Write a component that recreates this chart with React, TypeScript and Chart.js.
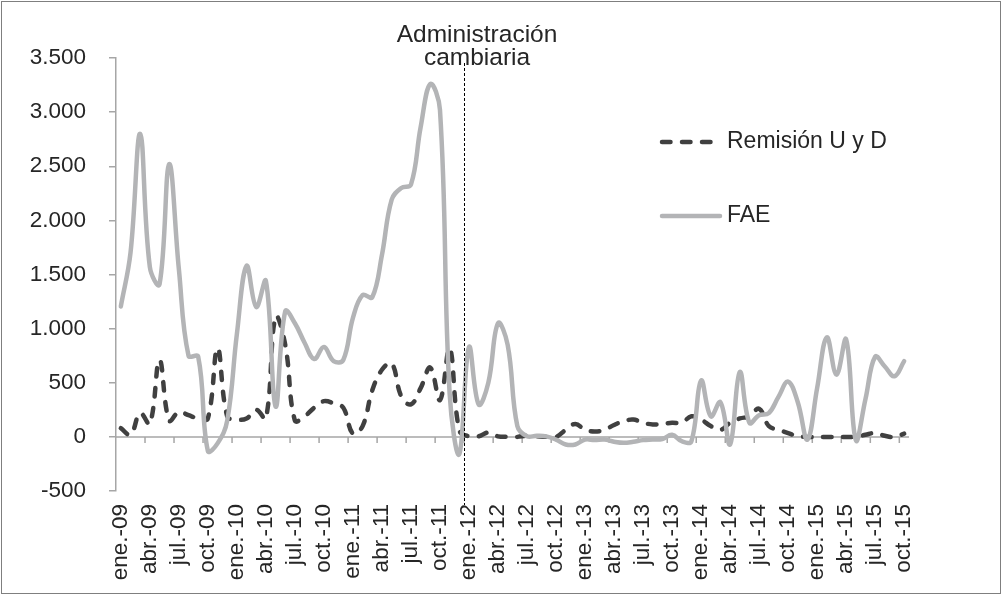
import React, { useEffect, useRef } from "react";
import { Chart, registerables } from "chart.js";

Chart.register(...registerables);

const MONTHS = ["ene.", "feb.", "mar.", "abr.", "may.", "jun.", "jul.", "ago.", "sep.", "oct.", "nov.", "dic."];
const YEARS = ["09", "10", "11", "12", "13", "14", "15"];
const categories = YEARS.flatMap((y) => MONTHS.map((m) => `${m}-${y}`)).slice(0, 82);

const remision = [
  80, 20, 220, 120, 710, 150, 230, 200, 170, 170, 820, 190,
  160, 170, 250, 170, 1110, 850, 150, 190, 270, 330, 310, 270,
  30, 100, 430, 620, 680, 375, 300, 450, 640, 340, 820, 60,
  5, 5, 40, 5, 0, 0, 10, 5, 0, 0, 65, 120,
  65, 50, 65, 110, 145, 160, 130, 115, 120, 130, 130, 190,
  160, 100, 65, 130, 170, 190, 260, 100, 65, 35, 5, 0,
  0, 0, 0, 0, 0, 20, 35, 10, 0, 30,
];

const fae = [
  1205, 1700, 2800, 1570, 1410, 2520, 1550, 750, 740, -130, -60, 150,
  950, 1580, 1200, 1440, 280, 1160, 1050, 870, 720, 830, 700, 710,
  1100, 1310, 1290, 1680, 2190, 2300, 2330, 2860, 3260, 3020, 400, -160,
  830, 300, 500, 1050, 850, 100, 5, 10, 5, -25, -70, -70,
  -25, -30, -25, -45, -55, -45, -30, -25, -20, 20, -40, -40,
  520, 190, 320, -70, 600, 130, 200, 220, 370, 510, 320, -25,
  450, 920, 575, 900, -30, 350, 740, 650, 560, 700,
];

const seriesNames = ["Remisión U y D", "FAE"];
const annotationLines = ["Administración", "cambiaria"];
const annotationIndex = 36; // ene.-12
const yMin = -500;
const yMax = 3500;
const yStep = 500;

const FONT = "'Liberation Sans', Arial, sans-serif";
const TEXT = "#262626";
const AXIS = "#a6a6a6";
const DARK = "#404040";
const LIGHT = "#b3b4b6";

function fmt(v: number): string {
  const s = Math.abs(v).toString().replace(/\B(?=(\d{3})+(?!\d))/g, ".");
  return v < 0 ? "-" + s : s;
}

const overlay = {
  id: "overlay",
  beforeDatasetsDraw(chart: any) {
    const { ctx, chartArea, scales } = chart;
    const x = scales.x;
    const y0 = scales.y.getPixelForValue(0);
    ctx.save();
    ctx.strokeStyle = AXIS;
    ctx.lineWidth = 1.5;
    ctx.beginPath();
    ctx.moveTo(chartArea.left, y0);
    ctx.lineTo(chartArea.right, y0);
    const half = (x.getPixelForValue(1) - x.getPixelForValue(0)) / 2;
    for (let i = 3; i < categories.length; i += 3) {
      const px = x.getPixelForValue(i) - half;
      ctx.moveTo(px, y0);
      ctx.lineTo(px, y0 + 6);
    }
    ctx.stroke();
    ctx.restore();
  },
  afterDatasetsDraw(chart: any) {
    const { ctx, scales } = chart;
    const x = scales.x;
    const half = (x.getPixelForValue(1) - x.getPixelForValue(0)) / 2;
    const vx = Math.round(x.getPixelForValue(annotationIndex) - half) + 0.5;
    ctx.save();
    // vertical dashed marker
    ctx.strokeStyle = "#000";
    ctx.lineWidth = 1;
    ctx.setLineDash([3, 2]);
    ctx.beginPath();
    ctx.moveTo(vx, 63);
    ctx.lineTo(vx, 505);
    ctx.stroke();
    ctx.setLineDash([]);
    // annotation text
    ctx.fillStyle = TEXT;
    ctx.font = `24.5px ${FONT}`;
    ctx.textAlign = "center";
    ctx.textBaseline = "alphabetic";
    ctx.fillText(annotationLines[0], 477, 42);
    ctx.fillText(annotationLines[1], 477, 65);
    // legend
    ctx.lineWidth = 4.5;
    ctx.lineCap = "round";
    ctx.strokeStyle = DARK;
    ctx.setLineDash([8.5, 11.5]);
    ctx.beginPath();
    ctx.moveTo(662, 142);
    ctx.lineTo(718, 142);
    ctx.stroke();
    ctx.setLineDash([]);
    ctx.strokeStyle = LIGHT;
    ctx.beginPath();
    ctx.moveTo(662, 216);
    ctx.lineTo(720, 216);
    ctx.stroke();
    ctx.fillStyle = TEXT;
    ctx.font = `23px ${FONT}`;
    ctx.textAlign = "left";
    ctx.textBaseline = "middle";
    ctx.fillText(seriesNames[0], 727, 142);
    ctx.fillText(seriesNames[1], 727, 216);
    // outer border
    ctx.lineCap = "butt";
    ctx.lineWidth = 1;
    ctx.strokeStyle = "#7f7f7f";
    ctx.strokeRect(1.5, 1.5, 999, 592);
    ctx.restore();
  },
};

export default function App() {
  const ref = useRef<HTMLCanvasElement | null>(null);

  useEffect(() => {
    const canvas = ref.current;
    if (!canvas) return;
    const chart = new Chart(canvas, {
      type: "line",
      data: {
        labels: categories,
        datasets: [
          {
            label: seriesNames[0],
            data: remision,
            borderColor: DARK,
            backgroundColor: DARK,
            borderWidth: 4.5,
            borderDash: [8.5, 11.5],
            borderCapStyle: "round",
            pointRadius: 0,
            tension: 0.4,
            fill: false,
            order: 1,
          },
          {
            label: seriesNames[1],
            data: fae,
            borderColor: LIGHT,
            backgroundColor: LIGHT,
            borderWidth: 4.5,
            borderCapStyle: "round",
            borderJoinStyle: "round",
            pointRadius: 0,
            tension: 0.4,
            fill: false,
            order: 0,
          },
        ],
      },
      options: {
        animation: false,
        responsive: false,
        devicePixelRatio: 1,
        layout: { padding: { left: 0, top: 58, right: 94, bottom: 0 } },
        plugins: {
          legend: { display: false },
          tooltip: { enabled: false },
          title: { display: false },
        },
        scales: {
          x: {
            type: "category",
            offset: true,
            grid: { display: false, drawTicks: false },
            border: { display: false },
            ticks: {
              autoSkip: false,
              minRotation: 90,
              maxRotation: 90,
              padding: 13,
              color: TEXT,
              font: { family: FONT, size: 22.5 },
              callback: (_v: any, i: number) => (i % 3 === 0 ? categories[i] : ""),
            },
            afterFit: (s: any) => {
              s.height = 105;
            },
          },
          y: {
            min: yMin,
            max: yMax,
            grid: {
              drawOnChartArea: false,
              drawTicks: true,
              tickLength: 7,
              color: AXIS,
              lineWidth: 1.5,
            },
            border: { display: true, color: AXIS, width: 1.5 },
            ticks: {
              stepSize: yStep,
              padding: 23,
              color: TEXT,
              font: { family: FONT, size: 22.5 },
              callback: (v: any) => fmt(Number(v)),
            },
            afterFit: (s: any) => {
              s.width = 116;
            },
          },
        },
      },
      plugins: [overlay],
    });
    return () => chart.destroy();
  }, []);

  return (
    <div style={{ position: "absolute", left: 0, top: 0, width: 1003, height: 596, background: "#fff" }}>
      <canvas ref={ref} width={1003} height={596} style={{ width: 1003, height: 596, display: "block" }} />
    </div>
  );
}
